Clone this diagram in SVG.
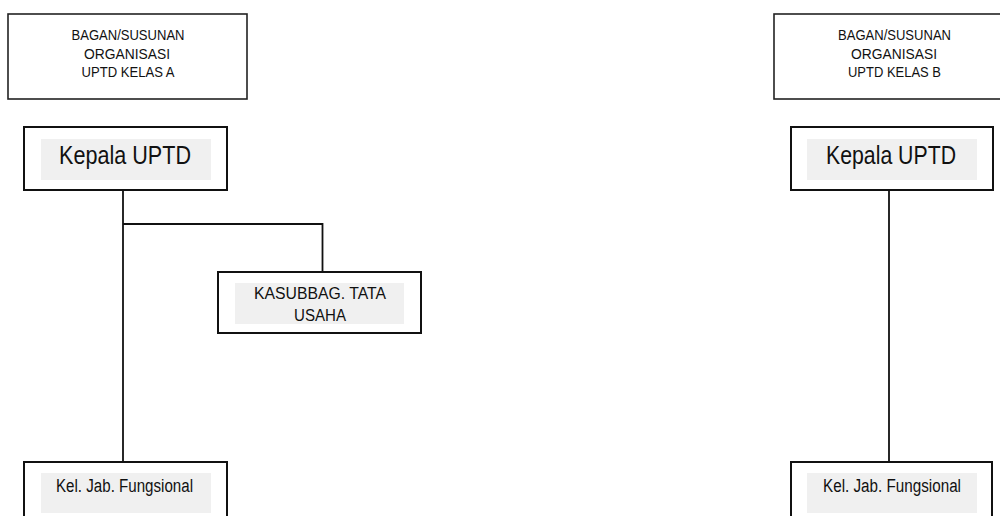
<svg xmlns="http://www.w3.org/2000/svg" width="1000" height="516" viewBox="0 0 1000 516">
<style>
.box{fill:#fff;stroke:#111;stroke-width:2}
.tbox{fill:#fff;stroke:#222;stroke-width:1.6}
.bg{fill:#f0f0f0;stroke:none}
.t{font-family:"Liberation Sans",Arial,sans-serif;fill:#111;text-anchor:middle}
.conn{fill:none;stroke:#111;stroke-width:1.8}
</style>
<rect width="1000" height="516" fill="#fff"/>
<g id="connectors">
<line class="conn" x1="123" y1="190" x2="123" y2="462"/>
<polyline class="conn" points="123,224 322.5,224 322.5,272"/>
<line class="conn" x1="889" y1="190" x2="889" y2="462"/>
</g>
<g id="title-a">
<rect class="tbox" x="8" y="14" width="239" height="85"/>
<text class="t" font-size="15" x="128" y="40" textLength="113" lengthAdjust="spacingAndGlyphs">BAGAN/SUSUNAN</text>
<text class="t" font-size="15" x="127" y="58.5" textLength="86" lengthAdjust="spacingAndGlyphs">ORGANISASI</text>
<text class="t" font-size="15" x="128" y="77" textLength="93" lengthAdjust="spacingAndGlyphs">UPTD KELAS A</text>
</g>
<g id="kepala-a">
<rect class="box" x="24" y="127" width="203" height="63"/>
<rect class="bg" x="41" y="139" width="170" height="41"/>
<text class="t" font-size="26" x="125" y="164" textLength="132" lengthAdjust="spacingAndGlyphs">Kepala UPTD</text>
</g>
<g id="kasubbag">
<rect class="box" x="218" y="272" width="203" height="61"/>
<rect class="bg" x="235" y="283" width="169" height="41"/>
<text class="t" font-size="16" x="320" y="299" textLength="132" lengthAdjust="spacingAndGlyphs">KASUBBAG. TATA</text>
<text class="t" font-size="16" x="320" y="321" textLength="52" lengthAdjust="spacingAndGlyphs">USAHA</text>
</g>
<g id="fungsional-a">
<rect class="box" x="24" y="462" width="203" height="62"/>
<rect class="bg" x="41" y="473" width="170" height="40"/>
<text class="t" font-size="18" x="124.5" y="492" textLength="137" lengthAdjust="spacingAndGlyphs">Kel. Jab. Fungsional</text>
</g>
<g id="title-b">
<rect class="tbox" x="774" y="14" width="239" height="85"/>
<text class="t" font-size="15" x="894.5" y="40" textLength="113" lengthAdjust="spacingAndGlyphs">BAGAN/SUSUNAN</text>
<text class="t" font-size="15" x="894" y="58.5" textLength="86" lengthAdjust="spacingAndGlyphs">ORGANISASI</text>
<text class="t" font-size="15" x="894.5" y="77" textLength="93" lengthAdjust="spacingAndGlyphs">UPTD KELAS B</text>
</g>
<g id="kepala-b">
<rect class="box" x="791" y="127" width="202" height="63"/>
<rect class="bg" x="807" y="139" width="170" height="41"/>
<text class="t" font-size="26" x="891" y="164" textLength="130" lengthAdjust="spacingAndGlyphs">Kepala UPTD</text>
</g>
<g id="fungsional-b">
<rect class="box" x="791" y="462" width="201" height="62"/>
<rect class="bg" x="807" y="473" width="170" height="40"/>
<text class="t" font-size="18" x="892" y="492" textLength="138" lengthAdjust="spacingAndGlyphs">Kel. Jab. Fungsional</text>
</g>
</svg>
